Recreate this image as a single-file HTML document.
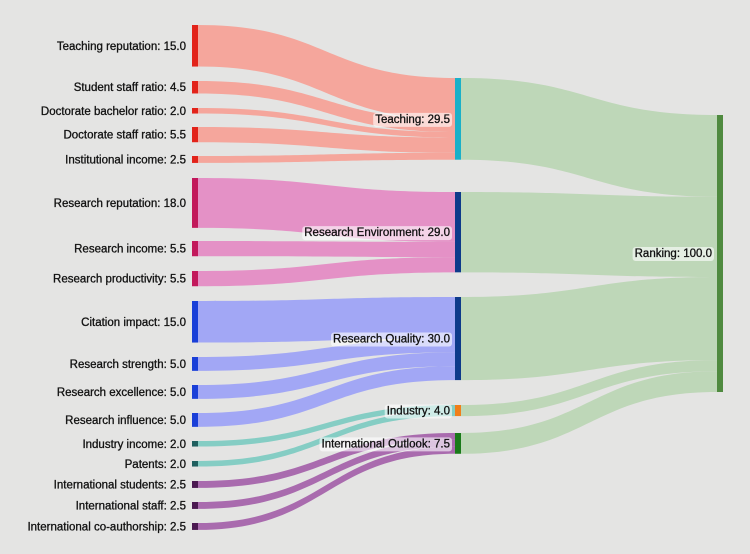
<!DOCTYPE html>
<html><head><meta charset="utf-8"><style>
body{margin:0;background:#e4e4e3;}
svg{display:block;font-family:"Liberation Sans",sans-serif;}
</style></head><body>
<svg id="s" width="750" height="554" viewBox="0 0 750 554" xmlns="http://www.w3.org/2000/svg">
<rect width="750" height="554" fill="#e4e4e3"/>
<g id="links"></g><g id="nodes"></g><g id="labels"></g>
</svg>
<script>
const k=2.77, NS="http://www.w3.org/2000/svg";
const mids={T:{y:78,c:"#1ab0c8",lc:"#f5a298",n:"Teaching: 29.5",v:29.5},
RE:{y:192,c:"#0d3a8a",lc:"#e48cc4",n:"Research Environment: 29.0",v:29},
RQ:{y:297,c:"#0d3a8a",lc:"#9ea3f6",n:"Research Quality: 30.0",v:30},
I:{y:405,c:"#f07f1a",lc:"#80cbc2",n:"Industry: 4.0",v:4},
IO:{y:433,c:"#1a7a1a",lc:"#a564ab",n:"International Outlook: 7.5",v:7.5}};
const lefts=[["Teaching reputation",15,25,"T","#e2231a"],["Student staff ratio",4.5,81,"T","#e2231a"],["Doctorate bachelor ratio",2,108,"T","#e2231a"],["Doctorate staff ratio",5.5,127,"T","#e2231a"],["Institutional income",2.5,156,"T","#e2231a"],
["Research reputation",18,178,"RE","#c2185b"],["Research income",5.5,241,"RE","#c2185b"],["Research productivity",5.5,271,"RE","#c2185b"],
["Citation impact",15,301,"RQ","#1a3fd8"],["Research strength",5,357,"RQ","#1a3fd8"],["Research excellence",5,385,"RQ","#1a3fd8"],["Research influence",5,413,"RQ","#1a3fd8"],
["Industry income",2,441,"I","#1f5f5f"],["Patents",2,461,"I","#1f5f5f"],
["International students",2.5,481,"IO","#4a1850"],["International staff",2.5,502,"IO","#4a1850"],["International co-authorship",2.5,523,"IO","#4a1850"]];
const L=document.getElementById("links"),N=document.getElementById("nodes"),B=document.getElementById("labels");
function el(t,a,p){const e=document.createElementNS(NS,t);for(const x in a)e.setAttribute(x,a[x]);p.appendChild(e);return e;}
function link(x0,y0,x1,y1,h,c,op){const m=(x0+x1)/2;el("path",{d:`M${x0},${y0}C${m},${y0} ${m},${y1} ${x1},${y1}L${x1},${y1+h}C${m},${y1+h} ${m},${y0+h} ${x0},${y0+h}Z`,fill:c,"fill-opacity":op},L);}
const TA={"font-size":"11.5",fill:"#111",stroke:"#111","stroke-width":"0.3"};
function txt(x,y,s){const a=Object.assign({x:x,y:y,"text-anchor":"end"},TA);const t=el("text",a,B);t.textContent=s;return t;}
const off={};for(const m in mids)off[m]=mids[m].y;
lefts.forEach(l=>{const h=l[1]*k;link(198,l[2],455,off[l[3]],h,mids[l[3]].lc,0.95);off[l[3]]+=h;
el("rect",{x:192,y:l[2],width:6,height:h,fill:l[4]},N);
txt(186,l[2]+h/2+4,l[0]+": "+l[1].toFixed(1));});
let ry=115;
for(const m in mids){const d=mids[m],h=d.v*k;link(461,d.y,717,ry,h,"#b9d5b3",0.9);ry+=h;
el("rect",{x:455,y:d.y,width:6,height:h,fill:d.c},N);
const t=txt(450,d.y+h/2+4,d.n);
const bb=t.getBBox();const r=el("rect",{x:bb.x-2,y:bb.y-1,width:bb.width+4,height:bb.height+2,rx:3,fill:"#fff","fill-opacity":0.6},B);B.insertBefore(r,t);}
el("rect",{x:717,y:115,width:6,height:277,fill:"#4f8a3f"},N);
const t=txt(712,257,"Ranking: 100.0");
const bb=t.getBBox();const r=el("rect",{x:bb.x-2,y:bb.y-1,width:bb.width+4,height:bb.height+2,rx:3,fill:"#fff","fill-opacity":0.6},B);B.insertBefore(r,t);
</script>
</body></html>
